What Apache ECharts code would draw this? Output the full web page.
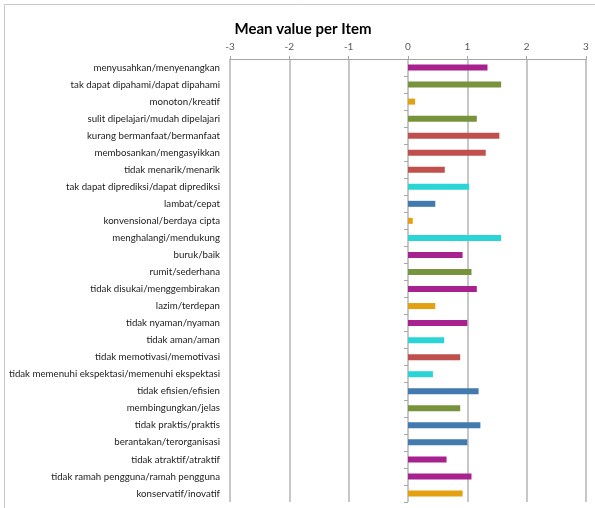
<!DOCTYPE html>
<html>
<head>
<meta charset="utf-8">
<script src="https://cdn.jsdelivr.net/npm/echarts@6/dist/echarts.min.js"></script>
<style>
  html, body { margin: 0; padding: 0; background: #fff; }
  #chart_mean { width: 595px; height: 508px; }
</style>
</head>
<body>
<div id="chart_mean"></div>
<script>
// categories, top to bottom
var items = [
  'menyusahkan/menyenangkan',
  'tak dapat dipahami/dapat dipahami',
  'monoton/kreatif',
  'sulit dipelajari/mudah dipelajari',
  'kurang bermanfaat/bermanfaat',
  'membosankan/mengasyikkan',
  'tidak menarik/menarik',
  'tak dapat diprediksi/dapat diprediksi',
  'lambat/cepat',
  'konvensional/berdaya cipta',
  'menghalangi/mendukung',
  'buruk/baik',
  'rumit/sederhana',
  'tidak disukai/menggembirakan',
  'lazim/terdepan',
  'tidak nyaman/nyaman',
  'tidak aman/aman',
  'tidak memotivasi/memotivasi',
  'tidak memenuhi ekspektasi/memenuhi ekspektasi',
  'tidak efisien/efisien',
  'membingungkan/jelas',
  'tidak praktis/praktis',
  'berantakan/terorganisasi',
  'tidak atraktif/atraktif',
  'tidak ramah pengguna/ramah pengguna',
  'konservatif/inovatif'
];

var meanValues = [1.34, 1.57, 0.12, 1.16, 1.54, 1.31, 0.62, 1.03, 0.46, 0.08,
                  1.57, 0.92, 1.07, 1.16, 0.46, 1.00, 0.61, 0.88, 0.42, 1.19,
                  0.88, 1.22, 1.00, 0.65, 1.07, 0.92];

var xTicks = [-3, -2, -1, 0, 1, 2, 3];

// colour per bar (scale group)
var pal = {
  m: '#A8228F',
  g: '#77933C',
  o: '#E3A010',
  r: '#C0504D',
  c: '#2BD5D5',
  b: '#4279AE'
};
var barColors = ['m','g','o','g','r','r','r','c','b','o',
                 'c','m','g','m','o','m','c','r','c','b',
                 'g','b','b','m','m','o'];

var myChart = echarts.init(document.getElementById('chart_mean'));

var barData = [];
for (var i = 0; i < meanValues.length; i++) {
  barData.push({ value: meanValues[i], itemStyle: { color: pal[barColors[i]] } });
}

var option = {
  animation: false,
  title: {
    text: 'Mean value per Item',
    left: 298,
    top: 17,
    textAlign: 'center',
    textStyle: { fontFamily: 'Lato', fontSize: 15, fontWeight: 'bold', color: '#000' }
  },
  graphic: [
    {
      type: 'polyline',
      shape: { points: [[4.5, 508], [4.5, 4.5], [595, 4.5]] },
      style: { stroke: '#C8C8C8', lineWidth: 1, fill: null },
      silent: true
    }
  ],
  grid: { left: 230, right: 9, top: 59, height: 443, containLabel: false },
  xAxis: {
    type: 'value',
    position: 'top',
    min: xTicks[0],
    max: xTicks[xTicks.length - 1],
    interval: 1,
    axisLine: { show: true, onZero: false, lineStyle: { color: '#A6A6A6', width: 1 } },
    axisTick: { show: true, length: 3, lineStyle: { color: '#A6A6A6' } },
    axisLabel: { color: '#595959', fontSize: 10, fontFamily: 'Lato', margin: 7 },
    splitLine: { show: true, lineStyle: { color: '#B4B4B4', width: 1.5 } }
  },
  yAxis: [
    {
      type: 'category',
      data: items,
      inverse: true,
      axisLine: { show: false, onZero: false },
      axisTick: { show: false },
      axisLabel: { color: '#222', fontSize: 9.7, fontFamily: 'Lato', margin: 10, interval: 0 }
    },
    {
      type: 'category',
      data: items,
      inverse: true,
      position: 'left',
      axisLine: { show: false, onZero: true },
      axisTick: { show: true, length: 4, lineStyle: { color: '#A6A6A6' } },
      axisLabel: { show: false },
      splitLine: { show: false }
    }
  ],
  series: [
    {
      name: 'Mean',
      type: 'bar',
      yAxisIndex: 0,
      barWidth: 6,
      data: barData
    }
  ]
};

myChart.setOption(option);
</script>
</body>
</html>
